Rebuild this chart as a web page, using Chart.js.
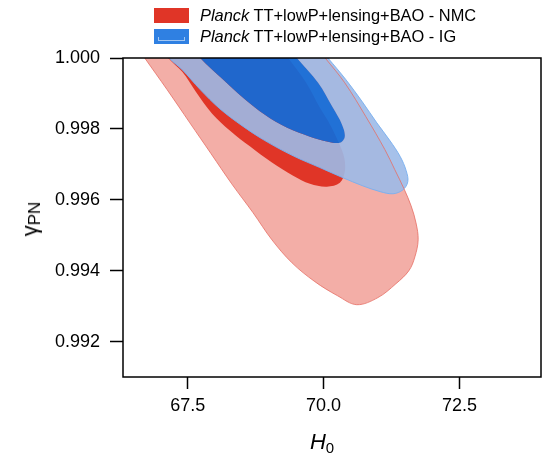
<!DOCTYPE html>
<html lang="en">

<head>
    <meta charset="UTF-8">
    <meta name="viewport" content="width=device-width, initial-scale=1.0">
    <script src="https://cdn.jsdelivr.net/npm/chart.js@4"></script>
    <title>H0 - gamma_PN contours</title>
    <style>
        body { margin: 0; background: #fff; }
        #wrap { position: relative; width: 551px; height: 456px; font-family: 'Liberation Sans', Arial, sans-serif; color: #000; }
        #legend { position: absolute; left: 154px; top: 8px; font-size: 16.4px; }
        .row { display: flex; align-items: center; height: 15px; margin-bottom: 6px; white-space: nowrap; }
        .swatch { position: relative; width: 35px; height: 15px; margin-right: 11px; box-sizing: border-box; }
        .swatch .mark { position: absolute; left: 4px; right: 4px; bottom: 3px; height: 3px; border: 1px solid rgba(255,255,255,0.55); border-top: none; }
        #xtitle { position: absolute; left: 272px; width: 100px; top: 431px; text-align: center; font-size: 22px; line-height: 22px; }
        #xtitle .sub { position: relative; top: 4px; font-size: 15px; }
        #ytitle { position: absolute; left: 31px; top: 219px; transform: translate(-50%, -50%) rotate(-90deg); white-space: nowrap; font-size: 22px; line-height: 22px; }
        #ytitle .sub { position: relative; top: 3px; font-size: 17px; }
    </style>
</head>

<body>

    <div id="wrap">
        <canvas id="myChart" width="551" height="456"></canvas>
        <div id="legend">
            <div class="row"><div class="swatch" style="background:#e03527"></div><span><i>Planck</i> TT+lowP+lensing+BAO - NMC</span></div>
            <div class="row"><div class="swatch" style="background:#2f80e2"><div class="mark"></div></div><span><i>Planck</i> TT+lowP+lensing+BAO - IG</span></div>
        </div>
        <div id="xtitle"><i>H</i><span class="sub">0</span></div>
        <div id="ytitle">γ<span class="sub">PN</span></div>
    </div>

    <script>

        const h0Ticks = [67.5, 70.0, 72.5];
        const gammaTicks = [0.992, 0.994, 0.996, 0.998, 1.000];

        // NMC, outer (2 sigma) contour; first and last points sit above the frame and get clipped
        const nmcOuterH0 = [66.49, 66.71, 67.12, 67.54, 67.93, 68.31, 68.70, 69.05, 69.42, 69.84, 70.26, 70.61, 71.00, 71.33,
            71.57, 71.68, 71.74, 71.70, 71.61, 71.48, 71.31, 71.13, 70.78, 70.39, 70.03, 69.77];
        const nmcOuterGamma = [1.0005, 1.0000, 0.99911, 0.99817, 0.99730, 0.99645, 0.99564, 0.99487, 0.99422, 0.99369, 0.99329,
            0.99304, 0.99324, 0.99363, 0.99400, 0.99439, 0.99487, 0.99535, 0.99583, 0.99631, 0.99685, 0.99741, 0.99834,
            0.99930, 1.0000, 1.0005];

        // NMC, inner (1 sigma) contour
        const nmcInnerH0 = [66.90, 67.14, 67.40, 67.65, 67.95, 68.28, 68.65, 69.05, 69.44, 69.75, 70.06, 70.30, 70.39, 70.38,
            70.28, 70.12, 69.93, 69.68, 69.35, 69.11];
        const nmcInnerGamma = [1.0005, 1.0000, 0.99961, 0.99905, 0.99843, 0.99795, 0.99750, 0.99705, 0.99668, 0.99645, 0.99637,
            0.99648, 0.99679, 0.99719, 0.99761, 0.99812, 0.99860, 0.99930, 1.0000, 1.0005];

        // IG, outer (2 sigma) contour
        const igOuterH0 = [66.95, 67.16, 67.40, 67.73, 68.09, 68.50, 68.92, 69.44, 69.93, 70.36, 70.71, 71.04, 71.28, 71.46,
            71.55, 71.52, 71.41, 71.22, 70.98, 70.71, 70.41, 70.08, 69.79];
        const igOuterGamma = [1.0005, 1.0000, 0.99967, 0.99911, 0.99857, 0.99809, 0.99767, 0.99724, 0.99691, 0.99662, 0.99640,
            0.99623, 0.99617, 0.99628, 0.99651, 0.99682, 0.99722, 0.99767, 0.99817, 0.99877, 0.99939, 1.0000, 1.0005];

        // IG, inner (1 sigma) contour
        const igInnerH0 = [67.45, 67.73, 68.13, 68.54, 68.92, 69.33, 69.75, 70.08, 70.30, 70.39, 70.34, 70.17, 69.90, 69.51, 69.25];
        const igInnerGamma = [1.0005, 1.0000, 0.99942, 0.99885, 0.99840, 0.99803, 0.99778, 0.99764, 0.99761, 0.99778, 0.99812,
            0.99860, 0.99930, 1.0000, 1.0005];

        const pts = (xs, ys) => xs.map((x, i) => ({ x: x, y: ys[i] }));

        // outer band of IG = outer contour minus inner one (both run off the top edge)
        const igBand = pts(igOuterH0, igOuterGamma).concat(pts(igInnerH0, igInnerGamma).reverse());

        const area = (label, data, color, order) => ({
            label: label,
            data: data,
            order: order,
            showLine: true,
            fill: 'shape',
            backgroundColor: color,
            borderWidth: 0,
            pointRadius: 0
        });

        const edge = (label, data, color, order) => ({
            label: label,
            data: data,
            order: order,
            showLine: true,
            fill: false,
            borderColor: color,
            borderWidth: 1,
            pointRadius: 0
        });

        const frame = {
            id: 'frame',
            afterDatasetsDraw(chart) {
                const { ctx, chartArea: a } = chart;
                ctx.save();
                ctx.strokeStyle = '#000';
                ctx.lineWidth = 1.5;
                ctx.strokeRect(a.left, a.top, a.right - a.left, a.bottom - a.top);
                ctx.restore();
            }
        };

        const tickFont = { family: "'Liberation Sans', Arial, sans-serif", size: 18 };

        let chart = document.getElementById('myChart').getContext('2d');

        new Chart(chart, {
            type: 'scatter',
            data: {
                datasets: [
                    area('NMC 2s', pts(nmcOuterH0, nmcOuterGamma), '#f3aea7', 6),
                    area('NMC 1s', pts(nmcInnerH0, nmcInnerGamma), '#e03527', 5),
                    area('IG 2s', igBand, 'rgba(156, 186, 232, 0.9)', 4),
                    area('IG 1s', pts(igInnerH0, igInnerGamma), 'rgba(15, 107, 218, 0.92)', 3),
                    edge('IG 2s edge', pts(igOuterH0, igOuterGamma), 'rgba(120, 175, 240, 0.9)', 2),
                    edge('NMC 2s edge', pts(nmcOuterH0, nmcOuterGamma), 'rgba(230, 110, 100, 0.8)', 1)
                ]
            },
            options: {
                responsive: false,
                animation: false,
                events: [],
                elements: { line: { tension: 0.35, capBezierPoints: false } },
                layout: { padding: { left: 0, top: 58, right: 10, bottom: 0 } },
                plugins: { legend: { display: false }, tooltip: { enabled: false } },
                scales: {
                    x: {
                        type: 'linear',
                        min: 66.31,
                        max: 74.0,
                        afterBuildTicks: s => { s.ticks = h0Ticks.map(v => ({ value: v })); },
                        afterFit: s => { s.height = 79; },
                        border: { display: false },
                        grid: { drawOnChartArea: false, drawTicks: true, tickLength: 12, tickWidth: 1.5, tickColor: '#000' },
                        ticks: { callback: v => v.toFixed(1), font: tickFont, color: '#000', padding: 6, maxRotation: 0, autoSkip: false }
                    },
                    y: {
                        type: 'linear',
                        min: 0.991,
                        max: 1.0,
                        afterBuildTicks: s => { s.ticks = gammaTicks.map(v => ({ value: v })); },
                        afterFit: s => { s.width = 123; },
                        border: { display: false },
                        grid: { drawOnChartArea: false, drawTicks: true, tickLength: 13, tickWidth: 1.5, tickColor: '#000' },
                        ticks: { callback: v => v.toFixed(3), font: tickFont, color: '#000', padding: 10, autoSkip: false }
                    }
                }
            },
            plugins: [frame]
        });

    </script>

</body>

</html>
